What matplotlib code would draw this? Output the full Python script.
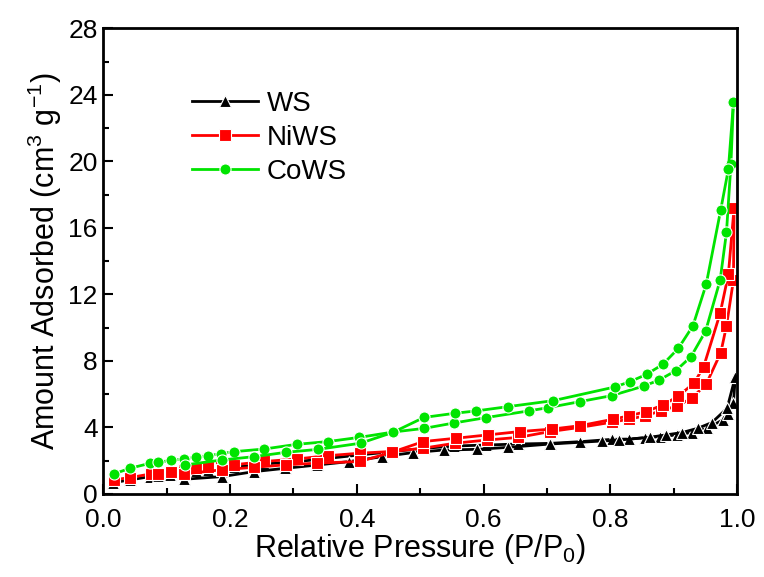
import numpy as np
import matplotlib.pyplot as plt
from matplotlib.ticker import MultipleLocator

plt.rcParams['font.family'] = ['Liberation Sans', 'DejaVu Sans']
plt.rcParams['mathtext.default'] = 'regular'

# WS isotherm
ws_ads_p = [0.016, 0.042, 0.074, 0.087, 0.106, 0.127, 0.147, 0.166, 0.187, 0.206,
            0.254, 0.305, 0.355, 0.404, 0.455, 0.506, 0.554, 0.604, 0.654, 0.705,
            0.752, 0.802, 0.83, 0.855, 0.878, 0.905, 0.928, 0.953, 0.977, 0.985,
            0.994, 0.997]
ws_ads_v = [0.68, 0.84, 1.04, 1.08, 1.14, 1.28, 1.4, 1.44, 1.54, 1.6,
            1.8, 1.94, 2.14, 2.34, 2.54, 2.74, 2.88, 2.94, 3.0, 3.04,
            3.14, 3.28, 3.3, 3.38, 3.44, 3.55, 3.69, 3.95, 4.45, 4.81,
            5.49, 7.05]
ws_des_p = [0.997, 0.984, 0.96, 0.938, 0.913, 0.888, 0.863, 0.814, 0.786, 0.705,
            0.639, 0.589, 0.537, 0.488, 0.44, 0.387, 0.338, 0.287, 0.238, 0.187,
            0.127]
ws_des_v = [7.05, 5.15, 4.29, 3.95, 3.69, 3.55, 3.41, 3.24, 3.18, 3.0,
            2.8, 2.68, 2.64, 2.48, 2.24, 1.94, 1.74, 1.54, 1.34, 1.04,
            0.88]

# NiWS isotherm
ni_ads_p = [0.017, 0.042, 0.075, 0.086, 0.107, 0.127, 0.147, 0.166, 0.186, 0.206,
            0.254, 0.305, 0.355, 0.405, 0.455, 0.505, 0.555, 0.605, 0.655, 0.705,
            0.752, 0.802, 0.83, 0.855, 0.88, 0.905, 0.928, 0.951, 0.974, 0.983,
            0.994, 0.995]
ni_ads_v = [0.85, 0.98, 1.2, 1.22, 1.3, 1.44, 1.55, 1.6, 1.7, 1.75,
            1.95, 2.1, 2.3, 2.45, 2.55, 2.75, 3.05, 3.24, 3.4, 3.75,
            4.0, 4.31, 4.5, 4.7, 5.0, 5.29, 5.75, 6.6, 8.49, 10.1,
            12.86, 17.2]
ni_des_p = [0.995, 0.986, 0.973, 0.947, 0.932, 0.907, 0.883, 0.856, 0.83, 0.804,
            0.752, 0.708, 0.657, 0.607, 0.557, 0.505, 0.455, 0.405, 0.338, 0.288,
            0.238, 0.187, 0.127]
ni_des_v = [17.2, 13.2, 10.86, 7.65, 6.67, 5.88, 5.35, 4.95, 4.7, 4.49,
            4.1, 3.9, 3.75, 3.55, 3.35, 3.15, 2.5, 1.95, 1.85, 1.75,
            1.6, 1.45, 1.2]

# CoWS isotherm
co_ads_p = [0.017, 0.042, 0.074, 0.087, 0.107, 0.127, 0.147, 0.166, 0.186, 0.206,
            0.254, 0.305, 0.355, 0.404, 0.457, 0.506, 0.554, 0.604, 0.671, 0.702,
            0.752, 0.802, 0.853, 0.877, 0.903, 0.927, 0.95, 0.973, 0.983, 0.99,
            0.994]
co_ads_v = [1.2, 1.54, 1.84, 1.9, 2.02, 2.1, 2.22, 2.3, 2.42, 2.54,
            2.7, 2.98, 3.15, 3.4, 3.72, 3.94, 4.27, 4.59, 4.99, 5.19,
            5.55, 5.91, 6.49, 6.85, 7.41, 8.25, 9.78, 12.86, 15.73, 19.83,
            23.54]
co_des_p = [0.994, 0.986, 0.974, 0.951, 0.93, 0.907, 0.883, 0.857, 0.831, 0.807,
            0.71, 0.639, 0.588, 0.555, 0.506, 0.457, 0.406, 0.339, 0.288, 0.238,
            0.187, 0.129]
co_des_v = [23.54, 19.53, 17.1, 12.6, 10.1, 8.75, 7.8, 7.19, 6.75, 6.43,
            5.61, 5.25, 4.99, 4.85, 4.6, 3.7, 3.05, 2.68, 2.5, 2.24,
            2.04, 1.74]

series = [
    ('WS', 'black', '^', ws_ads_p, ws_ads_v, ws_des_p, ws_des_v),
    ('NiWS', '#ff0000', 's', ni_ads_p, ni_ads_v, ni_des_p, ni_des_v),
    ('CoWS', '#00e400', 'o', co_ads_p, co_ads_v, co_des_p, co_des_v),
]

fig = plt.figure(figsize=(7.64, 5.77), dpi=100)
ax = fig.add_axes([0.135, 0.144, 0.83, 0.807])

for name, col, mk, ap, av, dp, dv in series:
    ms = 9 if mk == '^' else 8
    ax.plot(ap, av, color=col, marker=mk, ms=ms, lw=2,
            mec='white', mew=0.8, label=name)
    ax.plot(dp, dv, color=col, marker=mk, ms=ms, lw=2,
            mec='white', mew=0.8)

ax.set_xlim(0, 1.0)
ax.set_ylim(0, 28)
ax.xaxis.set_minor_locator(MultipleLocator(0.1))
ax.yaxis.set_major_locator(MultipleLocator(4))
ax.yaxis.set_minor_locator(MultipleLocator(2))
ticks = np.arange(0, 1.01, 0.2)
ax.set_xticks(ticks)
ax.set_xticklabels(['%.1f' % t for t in ticks])
ax.tick_params(which='both', direction='in', width=1.5, labelsize=19)
ax.tick_params(which='major', length=7)
ax.tick_params(axis='x', which='major', pad=10)
ax.tick_params(axis='y', which='major', pad=4)
ax.tick_params(which='minor', length=4)
for s in ax.spines.values():
    s.set_linewidth(2)

ax.set_xlabel('Relative Pressure (P/P$_{0}$)', fontsize=22, labelpad=0)
ax.set_ylabel('Amount Adsorbed (cm$^{3}$ g$^{-1}$)', fontsize=22, labelpad=3)

ax.legend(loc='upper left', bbox_to_anchor=(0.1, 0.92), frameon=False,
          fontsize=20, handlelength=2.4, labelspacing=0.3, handletextpad=0.3)

fig.savefig('out.png', dpi=100)
